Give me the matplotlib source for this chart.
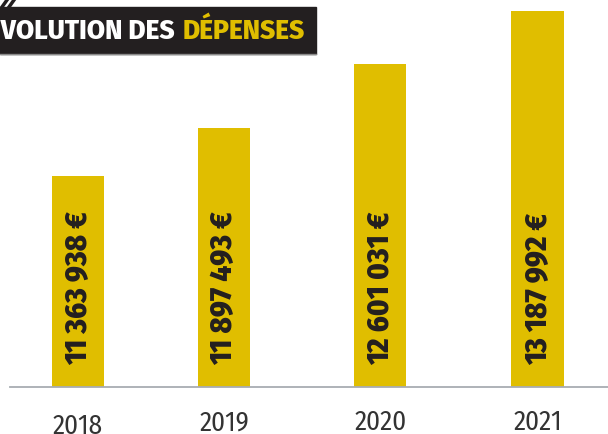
import matplotlib
matplotlib.use('Agg')
from matplotlib import pyplot as plt
from matplotlib.patches import Rectangle
from matplotlib.lines import Line2D

years = ['2018', '2019', '2020', '2021']
depenses = [11363938, 11897493, 12601031, 13187992]
labels = ['11 363 938 €', '11 897 493 €', '12 601 031 €', '13 187 992 €']

jaune = '#e0be00'
noir = '#231f20'
fam = ['Fira Sans Condensed', 'DejaVu Sans']
fam_titre = ['Fira Sans', 'DejaVu Sans']

W, H = 608, 434
fig = plt.figure(figsize=(W / 100, H / 100), dpi=100)
ax = fig.add_axes([10 / W, (H - 387) / H, 598 / W, 387 / H])

# positions des barres (mise en page)
xpos = [0, 0.953, 1.973, 3.0]
ax.bar(xpos, depenses, width=0.34, color=jaune)
ax.set_ylim(9031400, 13309400)
ax.set_xlim(-0.444, 3.46)

for xi, lab in zip(xpos, labels):
    ax.annotate(lab, (xi, 0), xycoords=('data', 'axes fraction'),
                xytext=(0, 22), textcoords='offset pixels',
                rotation=90, ha='center', va='bottom',
                fontsize=22, fontweight='heavy', color=noir, family=fam)

ax.set_xticks(xpos)
ax.set_xticklabels(years, family=fam, fontsize=19.5, fontweight='normal', color='#333333')
ax.tick_params(axis='x', length=0, pad=16)
ax.get_xticklabels()[0].set_y(-0.01)
ax.set_yticks([])
for s in ['top', 'left', 'right']:
    ax.spines[s].set_visible(False)
ax.spines['bottom'].set_color('#a8adb2')
ax.spines['bottom'].set_linewidth(1.3)

# bandeau titre
fig.add_artist(Rectangle((0, 1 - 54 / H), 316 / W, 47 / H,
                         transform=fig.transFigure, color=noir, zorder=5))
fig.add_artist(Line2D([0, 316 / W], [1 - 54 / H, 1 - 54 / H],
                      transform=fig.transFigure, color='#8a8a8a', lw=1, zorder=6))
fig.text(305 / W, 1 - 31 / H, 'DÉPENSES', ha='right', va='center',
         color=jaune, fontsize=19, fontweight='heavy', family=fam_titre, zorder=7)
fig.text(175 / W, 1 - 31 / H, 'ÉVOLUTION DES', ha='right', va='center',
         color='white', fontsize=19, fontweight='heavy', family=fam_titre, zorder=7)
for x0 in [2, 9]:
    fig.add_artist(Line2D([x0 / W, (x0 + 5) / W], [1 - 7 / H, 1], transform=fig.transFigure,
                          color=noir, lw=2.5, zorder=6))

plt.savefig('out.png', dpi=100)
